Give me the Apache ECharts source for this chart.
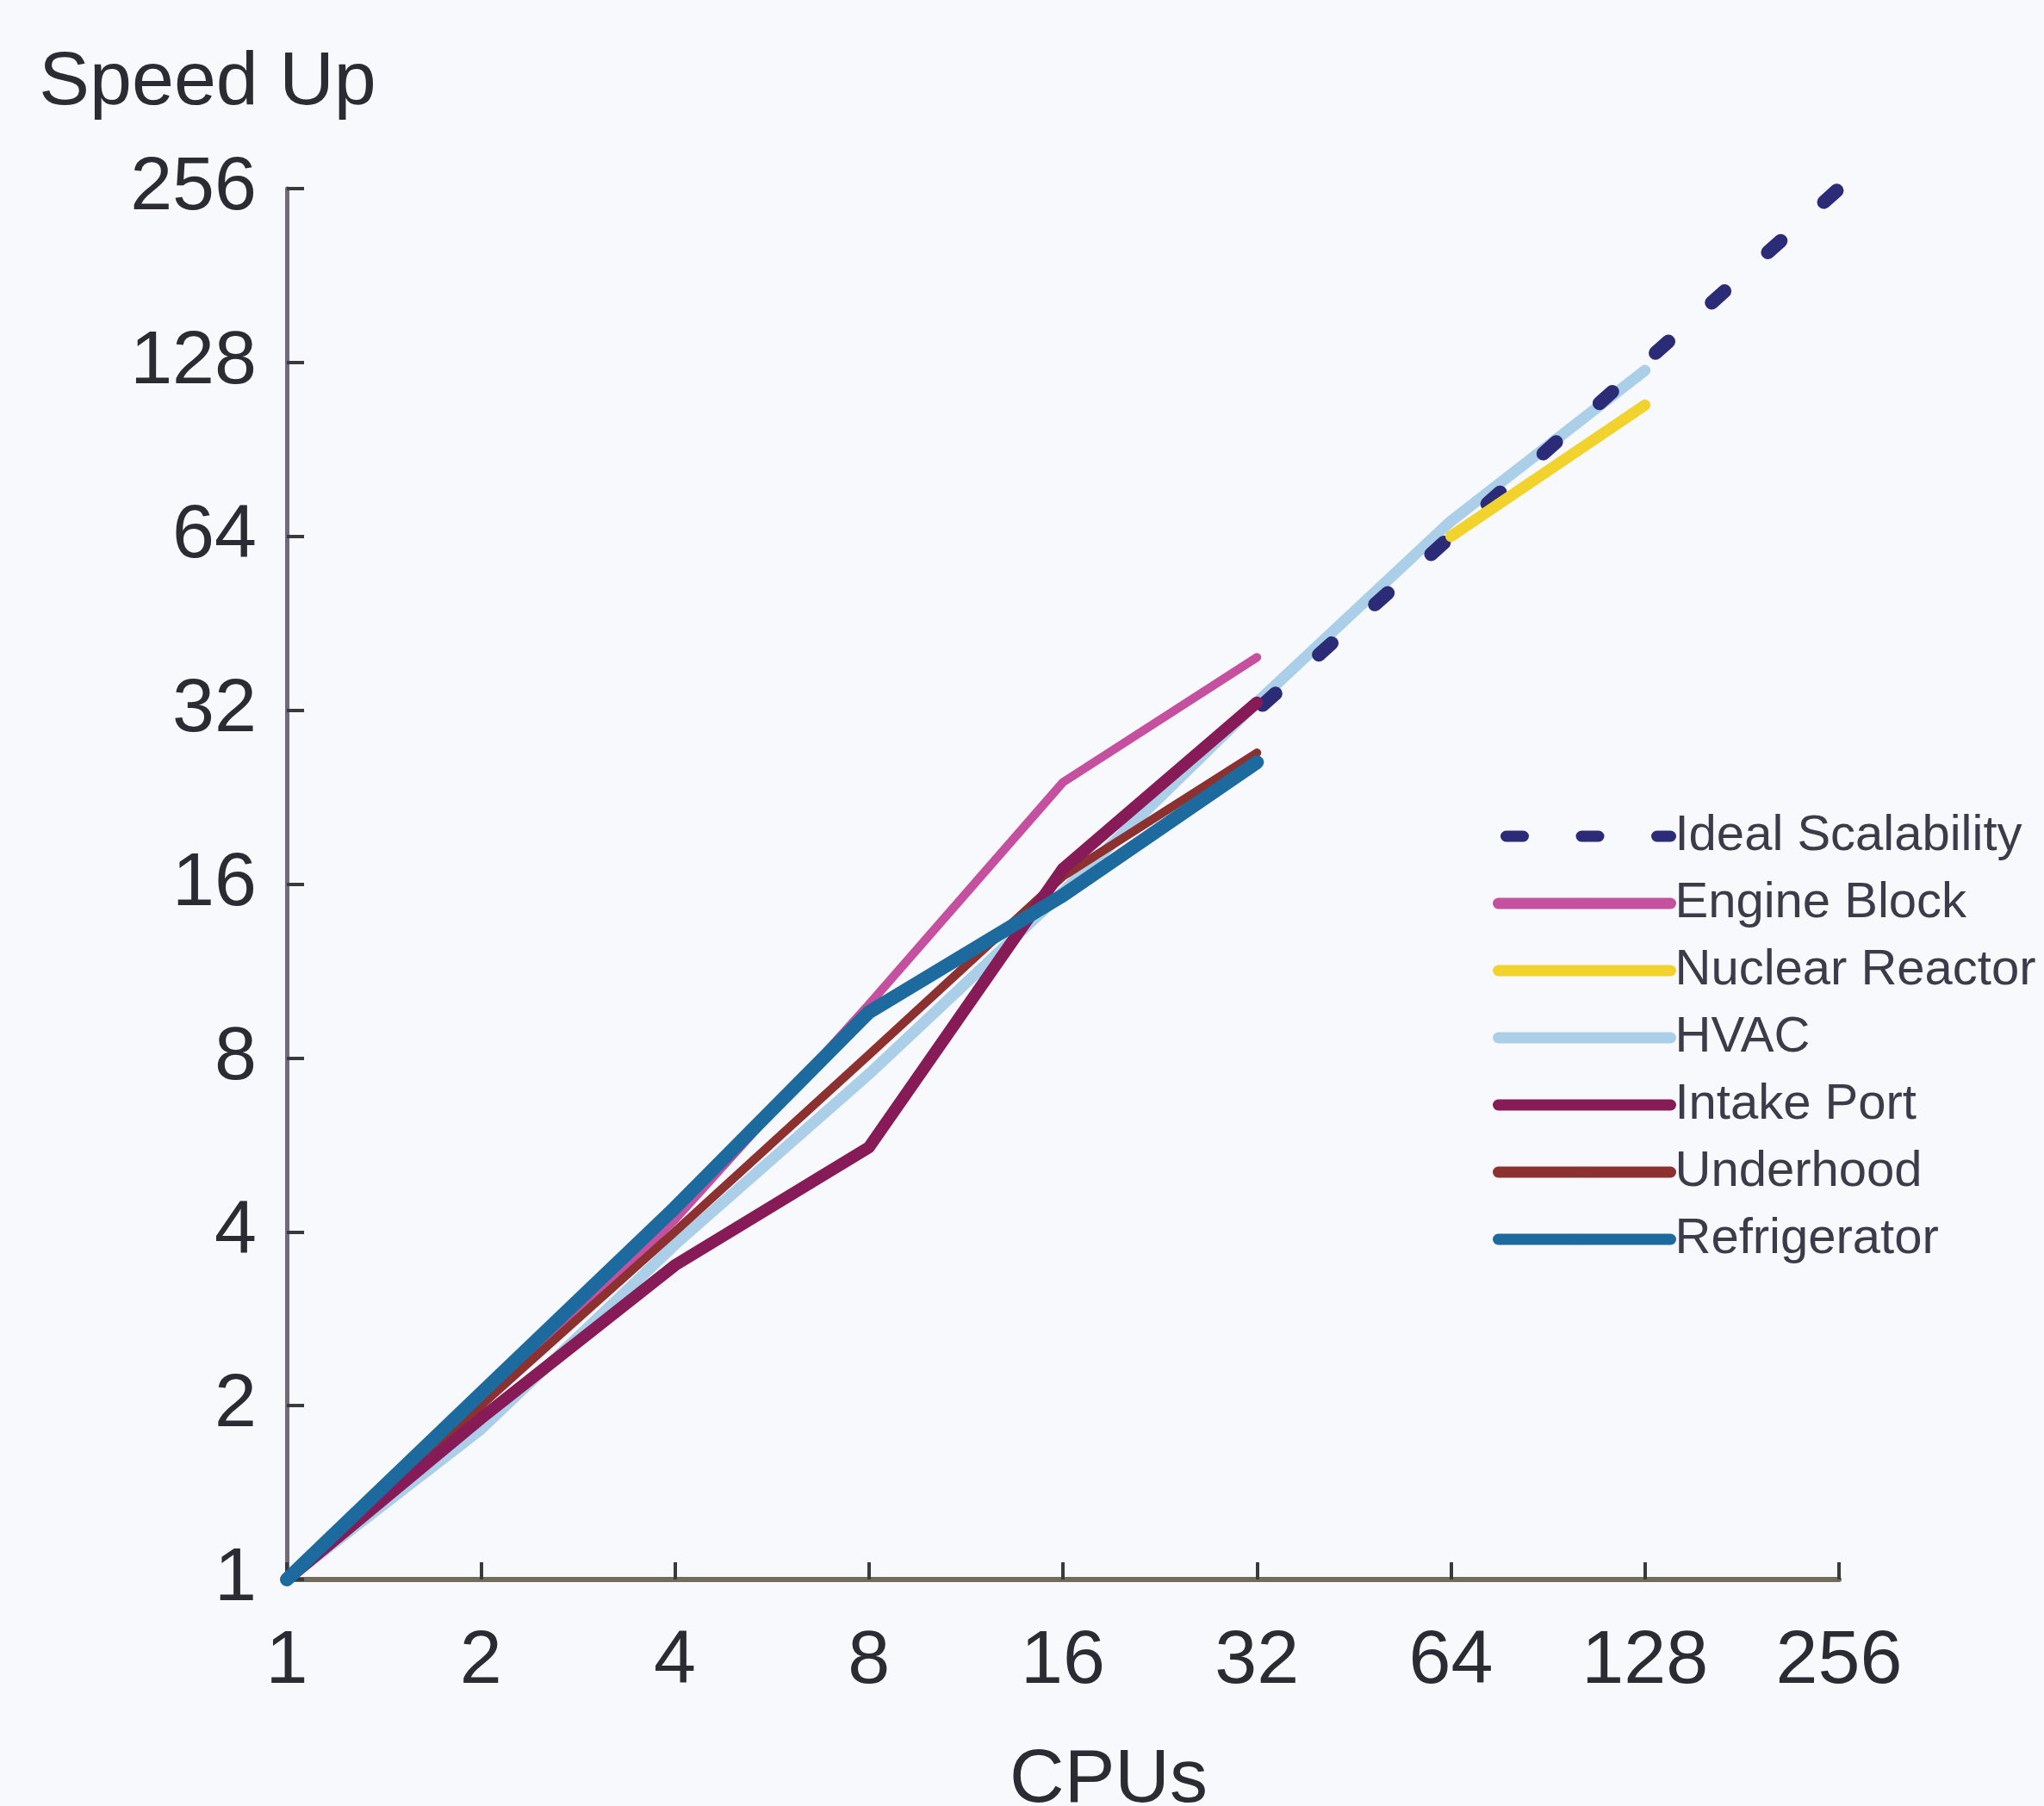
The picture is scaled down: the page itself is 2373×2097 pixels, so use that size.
<!DOCTYPE html>
<html>
<head>
<meta charset="utf-8">
<script src="https://cdn.jsdelivr.net/npm/echarts@6/dist/echarts.min.js"></script>
<style>
  html, body { margin: 0; padding: 0; background: #f7f9fc; }
  #chart { width: 2373px; height: 2097px; }
</style>
</head>
<body>
<div id="chart"></div>
<script>
// speed up vs cpus, both axes log base 2
const axisTicks = [1, 2, 4, 8, 16, 32, 64, 128, 256];

const seriesNames = ['Ideal Scalability', 'Engine Block', 'Nuclear Reactor', 'HVAC', 'Intake Port', 'Underhood', 'Refrigerator'];

// [cpus, speed up]
const idealScalability = [[32, 32], [64, 64], [128, 128], [256, 256]];
const engineBlock = [[1, 1], [2, 2.0], [4, 4.2], [8, 9.9], [16, 24], [32, 39.5]];
const nuclearReactor = [[64, 64], [128, 108]];
const hvac = [[1, 1], [2, 1.82], [4, 3.8], [8, 7.5], [16, 15.5], [32, 33], [64, 68], [128, 124]];
const intakePort = [[1, 1], [2, 1.9], [4, 3.5], [8, 5.6], [16, 17], [32, 33]];
const underhood = [[1, 1], [2, 2.0], [4, 4.0], [8, 8.1], [16, 16.5], [32, 27]];
const refrigerator = [[1, 1], [2, 2.1], [4, 4.4], [8, 9.6], [16, 15.3], [32, 26]];

const font = 'Liberation Sans';
const textColor = '#2b2b33';

function lineSeries(name, data, color, width, z, extra) {
  return Object.assign({
    name: name,
    type: 'line',
    data: data,
    symbol: 'none',
    clip: false,
    z: z,
    lineStyle: { color: color, width: width, cap: 'round', join: 'round' },
    itemStyle: { color: color }
  }, extra || {});
}

const chart = echarts.init(document.getElementById('chart'));

chart.setOption({
  backgroundColor: '#f7f9fc',
  animation: false,
  grid: { left: 333, right: 238, top: 219, bottom: 263, outerBoundsMode: 'none' },
  legend: {
    orient: 'vertical',
    left: 1728,
    top: 936,
    itemWidth: 200,
    itemHeight: 14,
    itemGap: 18,
    data: seriesNames,
    lineStyle: { width: 13 },
    textStyle: { fontFamily: font, fontSize: 58, lineHeight: 60, color: '#3b3b4a' }
  },
  xAxis: {
    type: 'log',
    logBase: 2,
    min: 1,
    max: 256,
    splitNumber: 8,
    name: 'CPUs',
    nameLocation: 'middle',
    nameGap: 190,
    nameTextStyle: { fontFamily: font, fontSize: 88, color: textColor, padding: [0, 0, 0, 106] },
    axisLine: { lineStyle: { color: '#736c5c', width: 6 } },
    axisTick: { inside: true, length: 20, lineStyle: { color: '#3a3a3a', width: 4 } },
    axisLabel: {
      fontFamily: font, fontSize: 88, color: textColor, margin: 52,
      formatter: v => axisTicks.includes(Math.round(v)) ? String(Math.round(v)) : ''
    },
    splitLine: { show: false }
  },
  yAxis: {
    type: 'log',
    logBase: 2,
    min: 1,
    max: 256,
    splitNumber: 8,
    name: 'Speed Up',
    nameLocation: 'end',
    nameGap: 78,
    nameTextStyle: { fontFamily: font, fontSize: 88, color: textColor, padding: [0, 184, 0, 0] },
    axisLine: { lineStyle: { color: '#6f6a80', width: 5 } },
    axisTick: { inside: true, length: 20, lineStyle: { color: '#3a3a3a', width: 4 } },
    axisLabel: {
      fontFamily: font, fontSize: 88, color: textColor, margin: 35,
      formatter: v => axisTicks.includes(Math.round(v)) ? String(Math.round(v)) : ''
    },
    splitLine: { show: false }
  },
  series: [
    lineSeries(seriesNames[0], idealScalability, '#2b2b78', 16, 3, {
      lineStyle: { color: '#2b2b78', width: 16, type: [20, 67.5], dashOffset: -9, cap: 'round' }
    }),
    lineSeries(seriesNames[1], engineBlock, '#c5509f', 10, 4),
    lineSeries(seriesNames[2], nuclearReactor, '#f2d32e', 13, 4),
    lineSeries(seriesNames[3], hvac, '#abcfe8', 13, 2),
    lineSeries(seriesNames[4], intakePort, '#861b57', 14, 6),
    lineSeries(seriesNames[5], underhood, '#8c3030', 10, 5),
    lineSeries(seriesNames[6], refrigerator, '#1c6a9e', 16, 7)
  ]
});
</script>
</body>
</html>
